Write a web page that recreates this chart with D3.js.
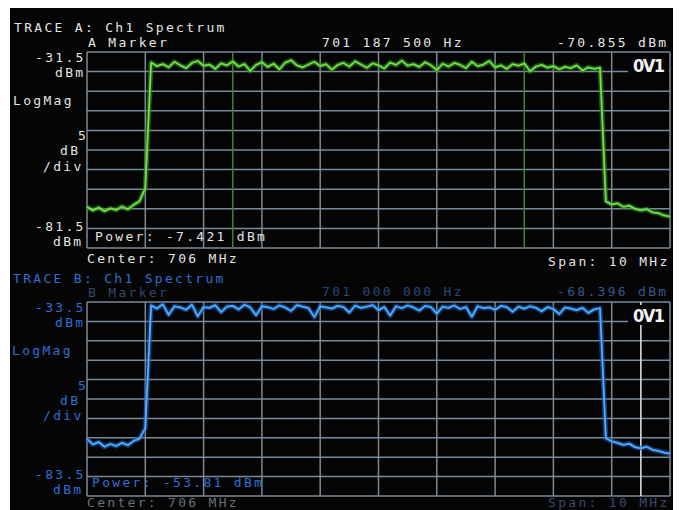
<!DOCTYPE html>
<html><head><meta charset="utf-8">
<script src="https://cdn.jsdelivr.net/npm/d3@7"></script>
<style>
html,body{margin:0;padding:0;background:#fff;}
svg text{font-family:"DejaVu Sans Mono",monospace;font-size:13px;letter-spacing:2.3px;}
</style></head>
<body><svg id="c" width="680" height="510"></svg>
<script>
// ---- data ----
const freqMHz = [701.0,701.1,701.2,701.3,701.4,701.5,701.6,701.7,701.8,701.9,
702.0,702.1,702.2,702.3,702.4,702.5,702.6,702.7,702.8,702.9,
703.0,703.1,703.2,703.3,703.4,703.5,703.6,703.7,703.8,703.9,
704.0,704.1,704.2,704.3,704.4,704.5,704.6,704.7,704.8,704.9,
705.0,705.1,705.2,705.3,705.4,705.5,705.6,705.7,705.8,705.9,
706.0,706.1,706.2,706.3,706.4,706.5,706.6,706.7,706.8,706.9,
707.0,707.1,707.2,707.3,707.4,707.5,707.6,707.7,707.8,707.9,
708.0,708.1,708.2,708.3,708.4,708.5,708.6,708.7,708.8,708.9,
709.0,709.1,709.2,709.3,709.4,709.5,709.6,709.7,709.8,709.9,
710.0,710.1,710.2,710.3,710.4,710.5,710.6,710.7,710.8,710.9,711.0];

const traceA_dBm = [-71.0,-71.9,-71.2,-72.1,-71.4,-71.8,-70.9,-71.6,-70.5,-69.6,-66.2,
-34.2,-35.1,-34.6,-35.4,-34.0,-34.9,-35.6,-34.3,-33.8,-35.0,
-34.7,-35.8,-34.4,-34.9,-33.9,-35.2,-34.6,-36.3,-34.8,-34.1,
-35.3,-34.5,-35.9,-34.2,-33.6,-34.9,-35.4,-34.7,-34.0,-35.1,
-34.6,-36.0,-34.8,-34.3,-35.2,-33.9,-34.7,-35.5,-34.4,-34.9,
-35.7,-34.2,-34.8,-33.7,-35.0,-34.6,-35.3,-34.1,-34.9,-36.1,
-34.5,-35.2,-34.3,-34.8,-35.6,-34.0,-35.1,-34.7,-33.8,-35.4,
-34.9,-35.8,-34.6,-35.0,-34.4,-36.4,-35.2,-34.8,-35.5,-35.1,
-35.9,-35.3,-35.6,-34.9,-36.2,-35.4,-35.8,-35.5,
-69.6,-70.4,-70.1,-71.0,-70.7,-71.5,-71.9,-71.6,-72.4,-72.6,-73.2,-73.5];

const traceB_dBm = [-68.8,-70.2,-69.6,-70.8,-70.1,-70.6,-69.8,-70.4,-69.3,-68.7,-66.0,
-34.4,-35.2,-34.1,-36.8,-34.6,-34.9,-35.5,-34.2,-37.2,-34.8,
-35.0,-34.3,-36.1,-34.7,-34.5,-35.4,-34.2,-34.9,-36.9,-34.6,
-34.8,-35.3,-34.4,-34.9,-35.8,-34.3,-34.7,-35.1,-37.4,-34.6,
-34.9,-35.2,-34.5,-34.8,-36.2,-34.4,-35.0,-34.7,-34.3,-35.6,
-34.8,-37.0,-34.6,-35.1,-34.4,-34.9,-35.7,-34.5,-34.8,-36.5,
-34.7,-35.0,-34.4,-35.3,-34.8,-37.3,-34.6,-35.1,-34.9,-35.5,
-34.5,-34.8,-36.0,-34.7,-35.2,-34.6,-35.0,-35.9,-34.8,-35.3,
-36.6,-34.9,-35.2,-35.6,-35.0,-36.3,-35.4,-35.1,
-68.6,-69.4,-69.8,-70.3,-70.0,-70.9,-71.2,-70.8,-71.6,-71.9,-72.3,-72.6];

const freqRange = [701, 711];           // center 706 MHz, span 10 MHz
const rangeA = [-81.5, -31.5];
const rangeB = [-83.5, -33.5];
const markerLinesA = [703.5, 708.5];
const markerLinesB = [710.5];

// ---- drawing ----
const svg = d3.select("#c");
svg.append("rect").attr("x",10).attr("y",8).attr("width",663).attr("height",502).attr("fill","#050505");

const x = d3.scaleLinear().domain(freqRange).range([87, 670]);
const yA = d3.scaleLinear().domain(rangeA).range([248, 52]);
const yB = d3.scaleLinear().domain(rangeB).range([496, 302]);

// exactly 10 divisions per axis
function divTicks(s){ const [a,b]=s.domain(); return d3.range(11).map(i=>a+(b-a)*i/10); }

function grid(y, markers, markerColor){
  const g = svg.append("g");
  const [y0, y1] = y.range();
  g.selectAll(".v").data(divTicks(x)).join("line")
    .attr("x1",d=>x(d)).attr("x2",d=>x(d)).attr("y1",y0).attr("y2",y1)
    .attr("stroke","#7b8a98").attr("stroke-width",1.5);
  g.selectAll(".h").data(divTicks(y)).join("line")
    .attr("x1",x.range()[0]).attr("x2",x.range()[1]).attr("y1",d=>y(d)).attr("y2",d=>y(d))
    .attr("stroke","#7b8a98").attr("stroke-width",1.5);
  g.selectAll(".m").data(markers).join("line")
    .attr("x1",d=>x(d)).attr("x2",d=>x(d)).attr("y1",y0).attr("y2",y1)
    .attr("stroke",markerColor).attr("stroke-width",1.6);
}

function trace(vals, y, glow, core){
  const line = d3.line().x((d,i)=>x(freqMHz[i])).y(d=>y(d));
  svg.append("path").attr("d",line(vals)).attr("fill","none")
    .attr("stroke",glow).attr("stroke-width",5).attr("stroke-opacity",0.6).attr("stroke-linejoin","round");
  svg.append("path").attr("d",line(vals)).attr("fill","none")
    .attr("stroke",core).attr("stroke-width",1.8).attr("stroke-linejoin","round");
}

function txt(s, xx, yy, fill, extra){
  const t = svg.append("text").attr("x",xx).attr("y",yy).attr("fill",fill).text(s);
  if (extra) extra(t);
  return t;
}
const ov = t=>t.style("font-family","'DejaVu Sans Condensed','DejaVu Sans',sans-serif")
   .style("font-weight","bold").style("font-size","18px").style("letter-spacing","0px").attr("textLength",32);

// ---- Trace A ----
grid(yA, markerLinesA, "#3d7f2f");
trace(traceA_dBm, yA, "#2e8a1e", "#74e04c");

const W = "#e4e4e4";
txt("TRACE A: Ch1 Spectrum", 14, 32, W);
txt("A Marker", 88, 47, W);
txt("701 187 500 Hz", 322, 47, W);
txt("-70.855 dBm", 557, 47, W);
txt("-31.5", 35, 62, W);
txt("dBm", 55, 77, W);
txt("LogMag", 13, 105, W);
txt("5", 78, 140, W);
txt("dB", 60, 155, W);
txt("/div", 43, 171, W);
txt("-81.5", 35, 231, W);
txt("dBm", 53, 246, W);
txt("Power: -7.421 dBm", 95, 241, W);
txt("Center: 706 MHz", 87, 263, W);
txt("Span: 10 MHz", 548, 266, W);
svg.append("rect").attr("x",628).attr("y",55).attr("width",41).attr("height",20).attr("fill","#050505");
txt("0V1", 633, 72, "#f2f2f2", ov);

// ---- Trace B ----
grid(yB, markerLinesB, "#d8dde0");
trace(traceB_dBm, yB, "#1d5db8", "#4fb0ff");

const B = "#2f6fd6";
txt("TRACE B: Ch1 Spectrum", 13, 283, B);
txt("B Marker", 88, 297, "#34486a");
txt("701 000 000 Hz", 322, 296, "#27497a");
txt("-68.396 dBm", 557, 296, "#33598c");
txt("-33.5", 35, 312, B);
txt("dBm", 55, 327, B);
txt("LogMag", 12, 355, B);
txt("5", 78, 390, B);
txt("dB", 60, 405, B);
txt("/div", 43, 420, B);
txt("-83.5", 35, 479, B);
txt("dBm", 53, 494, B);
txt("Power: -53.81  dBm", 92, 487, B);
txt("Center: 706 MHz", 87, 507, "#6a6f78");
txt("Span: 10 MHz", 548, 507, "#3c4a66");
svg.append("rect").attr("x",628).attr("y",305).attr("width",41).attr("height",20).attr("fill","#050505");
txt("0V1", 633, 322, "#f2f2f2", ov);
</script>
</body></html>
